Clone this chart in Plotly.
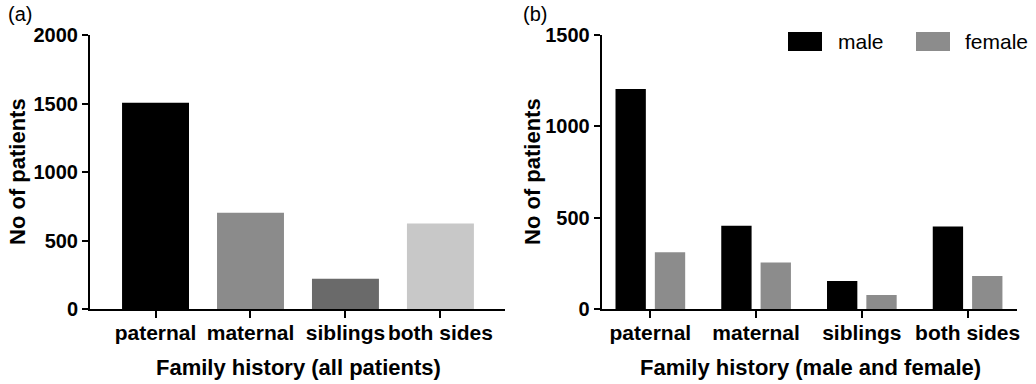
import plotly.graph_objects as go

# ---- data ----
categories = ["paternal", "maternal", "siblings", "both sides"]
all_patients = [1505, 703, 221, 625]
all_colors = ["#000000", "#8b8b8b", "#6a6a6a", "#c8c8c8"]
male = [1204, 456, 153, 451]
female = [310, 254, 77, 181]
y_ticks_a = [0, 500, 1000, 1500, 2000]
y_ticks_b = [0, 500, 1000, 1500]

W, H = 1036, 384
FONT = "Liberation Sans, Arial, sans-serif"

def px(x):
    return x / W

def py(y):
    return 1 - y / H

fig = go.Figure()
fig.add_trace(go.Bar(x=categories, y=all_patients, marker=dict(color=all_colors, line=dict(width=0)),
                     width=0.705, xaxis="x", yaxis="y", showlegend=False))
fig.add_trace(go.Bar(x=categories, y=male, name="male", marker=dict(color="#000000", line=dict(width=0)),
                     xaxis="x2", yaxis="y2", showlegend=False))
fig.add_trace(go.Bar(x=categories, y=female, name="female", marker=dict(color="#8c8c8c", line=dict(width=0)),
                     xaxis="x2", yaxis="y2", showlegend=False))

xtickfont = dict(family=FONT, size=21, color="black", weight="bold")
ytickfont = dict(family=FONT, size=20, color="black", weight="bold")
ydom = [py(309), py(35)]

common_x = dict(showline=True, linecolor="black", linewidth=2, ticks="outside", ticklen=7, tickwidth=2,
                tickcolor="black", tickfont=xtickfont, showgrid=False, zeroline=False, fixedrange=True,
                automargin=False, ticklabelstandoff=-3)
common_y = dict(showline=True, linecolor="black", linewidth=2, ticks="outside", ticklen=6, tickwidth=2,
                tickcolor="black", tickfont=ytickfont, showgrid=False, zeroline=False, fixedrange=True,
                automargin=False)

fig.update_layout(
    width=W, height=H,
    margin=dict(l=0, r=0, t=0, b=0, pad=0),
    paper_bgcolor="white", plot_bgcolor="white",
    barmode="group", bargap=0.256, bargroupgap=0.229,
    xaxis=dict(domain=[px(90), px(505)], range=[-0.69, 3.68], anchor="y", **common_x),
    yaxis=dict(domain=ydom, range=[0, 2000], tickvals=y_ticks_a, anchor="x", **common_y),
    xaxis2=dict(domain=[px(601.7), px(1017.3)], range=[-0.46, 3.47], anchor="y2", **common_x),
    yaxis2=dict(domain=ydom, range=[0, 1500], tickvals=y_ticks_b, anchor="x2", **common_y),
)

titlefont = dict(family=FONT, size=22, color="black", weight="bold")
ann = [
    dict(text="Family history (all patients)", x=px(298), y=py(367), font=titlefont),
    dict(text="Family history (male and female)", x=px(810), y=py(367), font=titlefont),
    dict(text="No of patients", x=px(17), y=py(172), textangle=-90, font=titlefont),
    dict(text="No of patients", x=px(532), y=py(172), textangle=-90, font=titlefont),
    dict(text="(a)", x=px(20), y=py(14), font=dict(family=FONT, size=20, color="black")),
    dict(text="(b)", x=px(535), y=py(14), font=dict(family=FONT, size=20, color="black")),
    dict(text="male", x=px(836), y=py(41), xanchor="left", font=dict(family=FONT, size=21, color="black")),
    dict(text="female", x=px(963), y=py(41), xanchor="left", font=dict(family=FONT, size=21, color="black")),
]
for a in ann:
    a.setdefault("xanchor", "center")
    fig.add_annotation(xref="paper", yref="paper", showarrow=False, yanchor="middle", **a)

fig.add_shape(type="rect", xref="paper", yref="paper", x0=px(788), x1=px(822), y0=py(51), y1=py(32),
              fillcolor="#000000", line=dict(width=0))
fig.add_shape(type="rect", xref="paper", yref="paper", x0=px(916), x1=px(950), y0=py(51), y1=py(32),
              fillcolor="#8c8c8c", line=dict(width=0))

fig.write_html("out.html", config={"displayModeBar": False},
               post_script="document.body.style.margin='0';document.body.style.overflow='hidden';")
